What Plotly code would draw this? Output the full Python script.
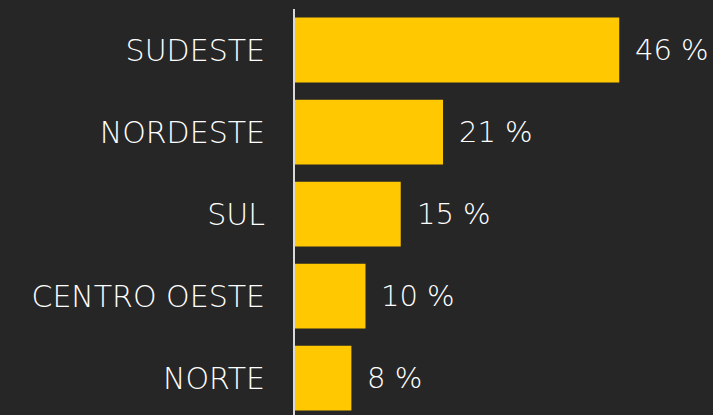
import plotly.graph_objects as go

regioes = ["SUDESTE", "NORDESTE", "SUL", "CENTRO OESTE", "NORTE"]
percentuais = [46, 21, 15, 10, 8]
rotulos = [f"{v} %" for v in percentuais]

BG = "#262626"
BAR = "#FFC800"
FONT = "DejaVu Sans"
FS = 29

fig = go.Figure(go.Bar(
    y=regioes, x=percentuais, orientation="h",
    marker=dict(color=BAR, line=dict(width=0)),
    hoverinfo="skip",
))

for r, v, t in zip(regioes, percentuais, rotulos):
    fig.add_annotation(x=v, y=r, text=t, showarrow=False, xanchor="left",
                       xshift=14, font=dict(family=FONT, size=FS, color="white", weight=200))

fig.update_layout(
    width=713, height=415,
    margin=dict(l=295, r=0, t=9, b=0),
    paper_bgcolor=BG, plot_bgcolor=BG,
    bargap=0.21,
    showlegend=False,
    xaxis=dict(range=[0, 59.3], visible=False, fixedrange=True),
    yaxis=dict(
        categoryorder="array", categoryarray=regioes,
        range=[4.45, -0.5], autorange=False,
        showline=True, linecolor="#d9d9d9", linewidth=2,
        showgrid=False, zeroline=False, ticks="",
        ticklabelstandoff=22,
        tickfont=dict(family=FONT, size=FS + 1, color="white", weight=200),
    ),
)

fig.write_html("out.html", config={"displayModeBar": False},
               post_script="document.body.style.margin='0';document.body.style.background='#262626';")
